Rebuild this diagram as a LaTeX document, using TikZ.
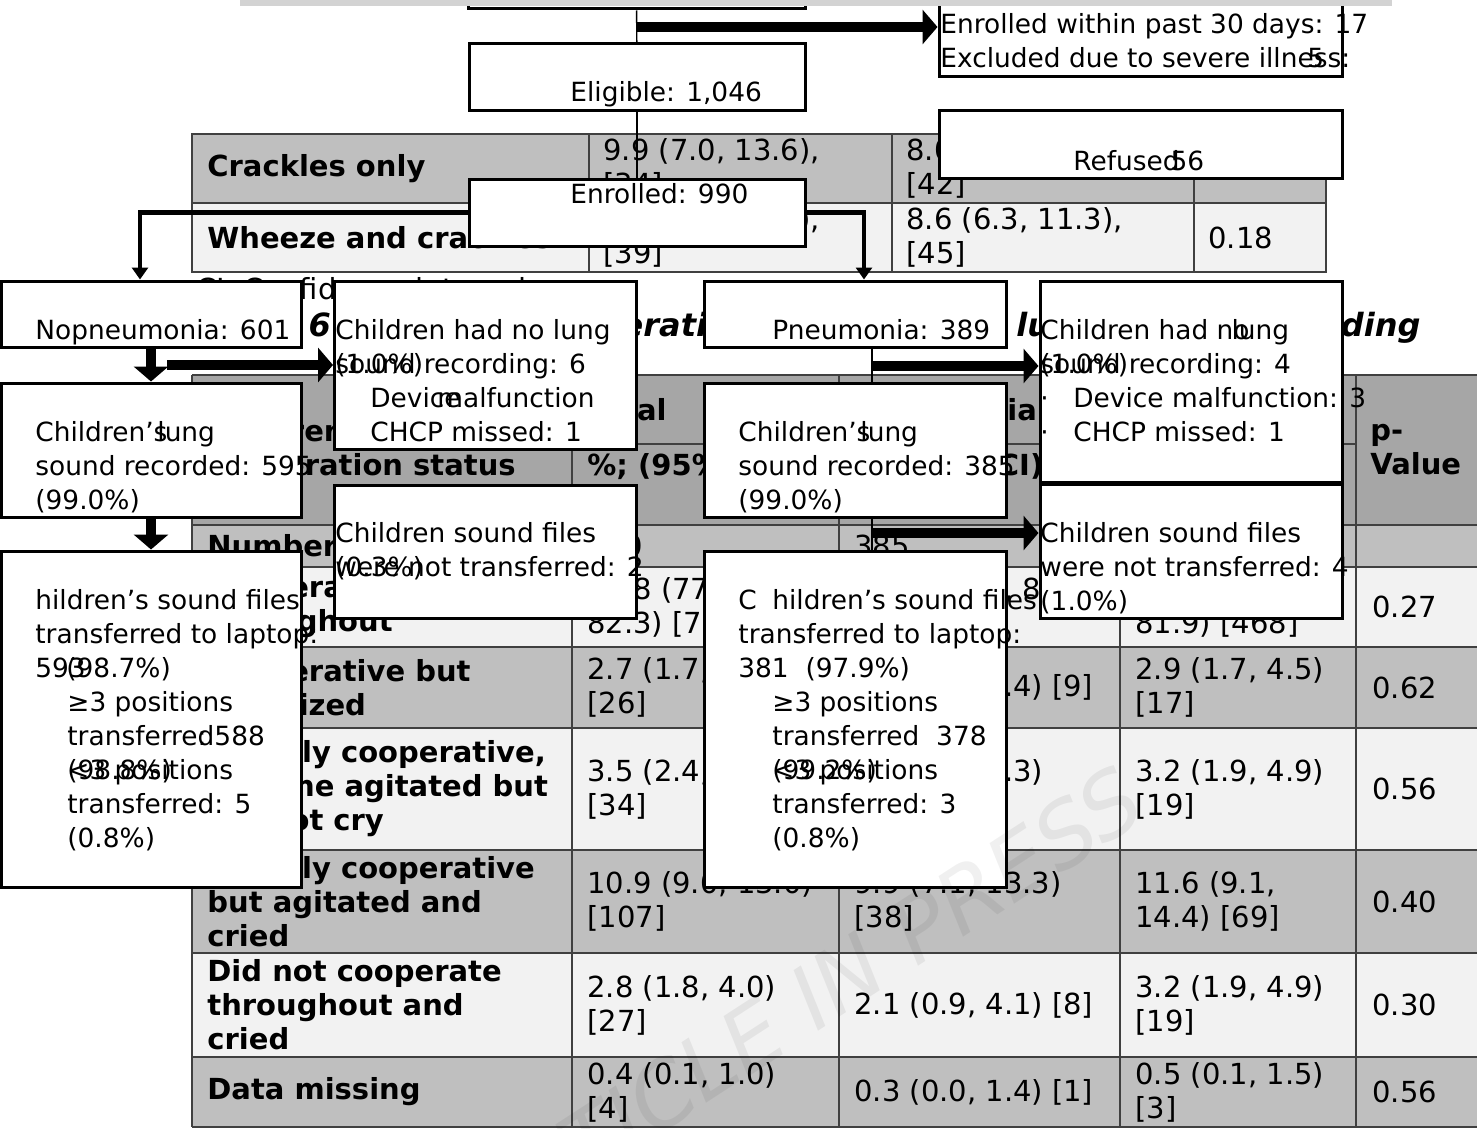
\documentclass[tikz,border=0pt]{standalone}
\usepackage{fontspec}
\setmainfont{DejaVu Sans}
\usetikzlibrary{positioning,arrows.meta}
\definecolor{headgray}{HTML}{A6A6A6}
\definecolor{rowgray}{HTML}{BFBFBF}
\definecolor{rowlight}{HTML}{F2F2F2}
\definecolor{bargray}{HTML}{D3D3D3}
\definecolor{gridgray}{HTML}{404040}

\begin{document}
\begin{tikzpicture}[x=0.5pt,y=-0.5pt]
\tikzstyle{flowbox}=[rectangle, draw=black, line width=1.5pt, fill=white, inner sep=0pt]
\tikzstyle{boxtext}=[anchor=base west, align=left, inner sep=0pt, font=\fontsize{13.2}{17}\selectfont]
\tikzstyle{cell}=[anchor=west, align=left, inner sep=0pt, font=\fontsize{14.5}{17}\selectfont]
\tikzstyle{cellhead}=[cell, font=\fontsize{14.5}{17}\selectfont\bfseries]
\tikzstyle{grid}=[gridgray, line width=0.75pt]
\tikzstyle{bigarrow}=[line width=5pt, -{Triangle[length=7.5pt,width=17pt]}]
\tikzstyle{midarrow}=[line width=2.2pt, -{Triangle[length=6pt,width=8pt]}]
\tikzstyle{thinline}=[line width=0.7pt]
\useasboundingbox (0,0) rectangle (1477,1129);
\fill[white] (0,0) rectangle (1477,1129);

% upper table (rest of previous table)
\fill[rowgray] (192,134) rectangle (1326,203);
\fill[rowlight] (192,203) rectangle (1326,272);
\draw[grid] (192,134) rectangle (1326,272)
	(192,203) -- (1326,203)
	(589,134) -- (589,272) (892,134) -- (892,272) (1194,134) -- (1194,272);
	\node[cellhead] (crk1) at (207,168.5) {Crackles only};
	\node[cell] (crk2) at (603,168.5) {9.9 (7.0, 13.6),\\{}[34]};
	\node[cell] (crk3) at (906,168.5) {8.0 (5.8, 10.8),\\{}[42]};
	\node[cellhead] (whz1) at (207,237.5) {Wheeze and crackles};
	\node[cell] (whz2) at (603,237.5) {7.4 (5.3, 10.1),\\{}[39]};
	\node[cell] (whz3) at (906,237.5) {8.6 (6.3, 11.3),\\{}[45]};
	\node[cell] (whz4) at (1208,237.5) {0.18};
	\node[cell] (cinote) at (196,290) {CI, Confidence interval};
	\node[anchor=west, inner sep=0pt, font=\fontsize{16}{19}\selectfont\bfseries\itshape] (tcap) at (202,328) {Table 6 Children’s cooperation status during lung sounds recording};

% lower table
\fill[headgray] (192,375) rectangle (1477,525);
\fill[rowgray] (192,525) rectangle (1477,567);
\fill[rowlight] (192,567) rectangle (1477,647);
\fill[rowgray] (192,647) rectangle (1477,728);
\fill[rowlight] (192,728) rectangle (1477,850);
\fill[rowgray] (192,850) rectangle (1477,953);
\fill[rowlight] (192,953) rectangle (1477,1057);
\fill[rowgray] (192,1057) rectangle (1477,1127);
\draw[grid] (192,375) -- (1477,375) (572,444) -- (1356,444)
	(192,525) -- (1477,525) (192,567) -- (1477,567) (192,647) -- (1477,647)
	(192,728) -- (1477,728) (192,850) -- (1477,850) (192,953) -- (1477,953)
	(192,1057) -- (1477,1057) (192,1127) -- (1477,1127)
	(192,375) -- (192,1127) (572,375) -- (572,1127) (839,375) -- (839,1127)
	(1120,375) -- (1120,1127) (1356,375) -- (1356,1127);
	\node[cellhead] (hd1) at (207,450) {Children’s\\cooperation status};
	\node[cellhead] (hd2) at (587,410) {Total};
	\node[cellhead] (hd3) at (854,410) {Pneumonia};
	\node[cellhead] (hd4) at (1135,410) {No\\pneumonia};
	\node[cellhead] (ci2) at (587,467) {\%; (95\% CI)};
	\node[cellhead] (ci3) at (854,467) {\%; (95\% CI)};
	\node[cellhead] (ci4) at (1135,467) {\%; (95\% CI)};
	\node[cellhead] (hd5) at (1370,450) {p-\\Value};
	\node[cellhead] (num1) at (207,546) {Number};
	\node[cell] (num2) at (587,546) {980};
	\node[cell] (num3) at (854,546) {385};
	\node[cell] (num4) at (1135,546) {595};
	\node[cellhead] (ra1) at (207,607) {Cooperated\\throughout};
	\node[cell] (ra2) at (587,607) {79.8 (77.2,\\82.3) [782]};
	\node[cell] (ra3) at (854,607) {81.6 (77.4, 85.3)\\{}[314]};
	\node[cell] (ra4) at (1135,607) {78.7 (75.2,\\81.9) [468]};
	\node[cell] (ra5) at (1372,607) {0.27};
	\node[cellhead] (rb1) at (207,687.5) {Cooperative but\\stabilized};
	\node[cell] (rb2) at (587,687.5) {2.7 (1.7, 3.9)\\{}[26]};
	\node[cell] (rb3) at (854,687.5) {2.3 (1.1, 4.4) [9]};
	\node[cell] (rb4) at (1135,687.5) {2.9 (1.7, 4.5)\\{}[17]};
	\node[cell] (rb5) at (1372,687.5) {0.62};
	\node[cellhead] (rc1) at (207,789) {Initially cooperative,\\became agitated but\\did not cry};
	\node[cell] (rc2) at (587,789) {3.5 (2.4, 4.8)\\{}[34]};
	\node[cell] (rc3) at (854,789) {3.9 (2.2, 6.3)\\{}[15]};
	\node[cell] (rc4) at (1135,789) {3.2 (1.9, 4.9)\\{}[19]};
	\node[cell] (rc5) at (1372,789) {0.56};
	\node[cellhead] (rd1) at (207,901.5) {Initially cooperative\\but agitated and\\cried};
	\node[cell] (rd2) at (587,901.5) {10.9 (9.0, 13.0)\\{}[107]};
	\node[cell] (rd3) at (854,901.5) {9.9 (7.1, 13.3)\\{}[38]};
	\node[cell] (rd4) at (1135,901.5) {11.6 (9.1,\\14.4) [69]};
	\node[cell] (rd5) at (1372,901.5) {0.40};
	\node[cellhead] (re1) at (207,1005) {Did not cooperate\\throughout and\\cried};
	\node[cell] (re2) at (587,1005) {2.8 (1.8, 4.0)\\{}[27]};
	\node[cell] (re3) at (854,1005) {2.1 (0.9, 4.1) [8]};
	\node[cell] (re4) at (1135,1005) {3.2 (1.9, 4.9)\\{}[19]};
	\node[cell] (re5) at (1372,1005) {0.30};
	\node[cellhead] (rf1) at (207,1092) {Data missing};
	\node[cell] (rf2) at (587,1092) {0.4 (0.1, 1.0)\\{}[4]};
	\node[cell] (rf3) at (854,1092) {0.3 (0.0, 1.4) [1]};
	\node[cell] (rf4) at (1135,1092) {0.5 (0.1, 1.5)\\{}[3]};
	\node[cell] (rf5) at (1372,1092) {0.56};

% flow chart
	\node[flowbox, minimum width=168.5pt, minimum height=19.5pt] (topbox) at (636.5,-10.5) {};
	\node[flowbox, minimum width=201.5pt, minimum height=48.5pt] (excl) at (1140.5,28.5) {};
	\node[flowbox, minimum width=168pt, minimum height=33.5pt] (elig) at (637,77) {};
	\node[flowbox, minimum width=201.5pt, minimum height=33.5pt] (refused) at (1140.5,144.5) {};
	\node[flowbox, minimum width=168pt, minimum height=33.5pt] (enrolled) at (637,212.5) {};
	\node[flowbox, minimum width=150pt, minimum height=33pt] (nopn) at (151,314) {};
	\node[flowbox, minimum width=151pt, minimum height=84pt] (nolunglft) at (485.5,365) {};
	\node[flowbox, minimum width=151pt, minimum height=33pt] (pneu) at (855,314) {};
	\node[flowbox, minimum width=151pt, minimum height=100.5pt] (nolungrt) at (1191,381.5) {};
	\node[flowbox, minimum width=150pt, minimum height=67pt] (reclft) at (151,450) {};
	\node[flowbox, minimum width=151pt, minimum height=66.5pt] (notrlft) at (485.5,551.5) {};
	\node[flowbox, minimum width=151pt, minimum height=67pt] (recrt) at (855,450) {};
	\node[flowbox, minimum width=151pt, minimum height=67pt] (notrrt) at (1191,551) {};
	\node[flowbox, minimum width=150pt, minimum height=168pt] (trlft) at (151,719) {};
	\node[flowbox, minimum width=151pt, minimum height=168pt] (trrt) at (855,719) {};

	% base of a text block = base of its last line
	\node[boxtext] (t_excl) at (940,67.5) {Enrolled within past 30 days: 17\\Excluded due to severe illness:\llap{5\kern13pt}};
	\node[boxtext] (t_elig) at (570,101.5) {Eligible: 1,046};
	\node[boxtext] (t_ref) at (1073,170.5) {Refused\kern-4.5pt 56};
	\node[boxtext] (t_enr) at (570,203.5) {Enrolled: 990};
	\node[boxtext] (t_nopn) at (35,339.5) {Nopneumonia: 601};
	\node[boxtext] (t_pneu) at (772,339.5) {Pneumonia: 389};
	\node[boxtext] (t_nll) at (335,441.5) {Children had no lung\\\rlap{(1.0\%)}sound recording: 6\\\hspace*{17.5pt}\rlap{Device}\hspace*{33.5pt}malfunction\\\hspace*{17.5pt}CHCP missed: 1};
	\node[boxtext] (t_nlr) at (1040,441.5) {Children had no\kern-9pt lung\\\rlap{(1.0\%)}sound recording: 4\\\makebox[16.5pt][l]{·}Device malfunction: 3\\\makebox[16.5pt][l]{·}CHCP missed: 1};
	\node[boxtext] (t_recl) at (35,509.5) {Children’s\kern-5pt lung\\sound recorded: 595\\(99.0\%)};
	\node[boxtext] (t_recr) at (738,509.5) {Children’s\kern-5pt lung\\sound recorded: 385\\(99.0\%)};
	\node[boxtext] (t_ntl) at (335,576.5) {Children sound files\\\rlap{(0.3\%)}were not transferred: 2};
	\node[boxtext] (t_ntr) at (1040,610.5) {Children sound files\\were not transferred: 4\\(1.0\%)};
	\node[boxtext] (t_trl) at (35,847.5) {hildren’s sound files\\transferred to laptop:\\\rlap{593}\hspace*{15.5pt}(98.7\%)\\\hspace*{16pt}≥3 positions\\\hspace*{16pt}transferre\rlap{:}d588\\\hspace*{16pt}\rlap{(98.8\%)}<3 positions\\\hspace*{16pt}transferred: 5\\\hspace*{16pt}(0.8\%)};
	\node[boxtext] (t_trr) at (738,847.5) {\rlap{C}\hspace*{17pt}hildren’s sound files\\transferred to laptop:\\381~~(97.9\%)\\\hspace*{17pt}≥3 positions\\\hspace*{17pt}transferred~~378\\\hspace*{17pt}\rlap{(99.2\%)}<3 positions\\\hspace*{17pt}transferred: 3\\\hspace*{17pt}(0.8\%)};

	\coordinate (jtop) at (636.5,27);
	\coordinate (jl1) at (167,365);
	\coordinate (jr1) at (872,366);
	\coordinate (jr2) at (872,533);
	\draw[thinline] (topbox) -- (elig);
	\draw[thinline] (elig) -- (enrolled);
	\draw[bigarrow] (jtop) -- (jtop -| excl.west);
	\draw[midarrow] (enrolled.west) -| ([xshift=-5.5pt]nopn.north);
	\draw[midarrow] (enrolled.east) -| ([xshift=4.5pt]pneu.north);
	\draw[bigarrow] (nopn) -- (reclft);
	\draw[bigarrow] (jl1) -- (jl1 -| nolunglft.west);
	\draw[bigarrow] (reclft) -- (trlft);
	\draw[thinline] ([xshift=8.5pt]pneu.south) -- ([xshift=8.5pt]recrt.north);
	\draw[thinline] ([xshift=8.5pt]recrt.south) -- ([xshift=8.5pt]trrt.north);
	\draw[bigarrow] (jr1) -- (jr1 -| nolungrt.west);
	\draw[bigarrow] (jr2) -- (jr2 -| notrrt.west);

\fill[bargray] (240,-5) rectangle (1392,6);
	\node[rotate=33, opacity=0.06, font=\fontsize{44}{44}\selectfont\itshape] (wmark) at (800,1005) {ARTICLE IN PRESS};
\end{tikzpicture}
\end{document}
